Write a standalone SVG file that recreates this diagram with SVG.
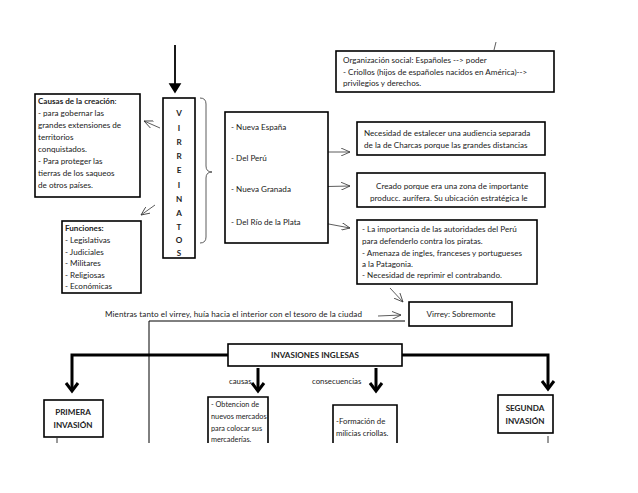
<svg xmlns="http://www.w3.org/2000/svg" width="638" height="493" viewBox="0 0 638 493">
<style>
text{font-family:Lato,"Liberation Sans",sans-serif;font-size:8.1px;fill:#222}
.b{font-weight:bold}
.s{font-size:7.8px}
.t{font-size:7.3px}
.box{fill:#fff;stroke:#000;stroke-width:1.6}
.thin{fill:none;stroke:#333;stroke-width:0.8}
.thick{fill:none;stroke:#000;stroke-width:3}
.head{fill:none;stroke:#000;stroke-width:3;stroke-linejoin:miter}
</style>
<defs>
<marker id="a" markerWidth="10" markerHeight="8" refX="9" refY="4" orient="auto" markerUnits="userSpaceOnUse">
<path d="M0,0 L9,4 L0,8" fill="none" stroke="#333" stroke-width="0.8"/>
</marker>
</defs>
<rect width="638" height="493" fill="#fff"/>
<g id="connectors">
<line x1="175" y1="45" x2="175" y2="88" stroke="#000" stroke-width="1.8"/>
<path d="M170,84 L175,92 L180,84 Z" fill="#000" stroke="#000" stroke-width="1.5"/>
<line x1="496" y1="42" x2="494" y2="50" class="thin"/>
<path d="M200,98 Q206,98 206,104 L206,166 Q206,172 212,172 Q206,172 206,178 L206,237 Q206,243 200,243" class="thin"/>
<line x1="160" y1="128" x2="144" y2="121" class="thin" marker-end="url(#a)"/>
<line x1="155" y1="205" x2="141" y2="215" class="thin" marker-end="url(#a)"/>
<line x1="300" y1="152" x2="350" y2="152" class="thin" marker-end="url(#a)"/>
<line x1="305" y1="187" x2="350" y2="186" class="thin" marker-end="url(#a)"/>
<line x1="318" y1="222" x2="350" y2="228" class="thin" marker-end="url(#a)"/>
<line x1="390" y1="288" x2="403" y2="302" class="thin" marker-end="url(#a)"/>
<line x1="378" y1="316" x2="401" y2="315" class="thin" marker-end="url(#a)"/>
<line x1="149" y1="321" x2="405" y2="321" stroke="#000" stroke-width="1"/>
<line x1="149" y1="321" x2="149" y2="443" stroke="#000" stroke-width="1"/>
<polyline points="228,355 72,355 72,390" class="thick"/>
<polyline points="66,383 72,391 78,383" class="head"/>
<polyline points="402,355 548,355 548,388" class="thick"/>
<polyline points="542,381 548,389 554,381" class="head"/>
<line x1="258" y1="368" x2="258" y2="390" class="thick"/>
<polyline points="252,383 258,391 264,383" class="head"/>
<line x1="376" y1="368" x2="376" y2="390" class="thick"/>
<polyline points="370,383 376,391 382,383" class="head"/>
<line x1="57" y1="438" x2="57" y2="443" stroke="#000" stroke-width="0.8"/>
<line x1="548" y1="436" x2="548" y2="443" stroke="#000" stroke-width="0.8"/>
</g>
<g id="organizacion">
<rect x="336" y="51" width="218" height="41" class="box"/>
<text x="343" y="63">Organización social: Españoles --&gt; poder</text>
<text x="343" y="75">- Criollos  (hijos de españoles nacidos en América)--&gt;</text>
<text x="343" y="86">privilegios y derechos.</text>
</g>
<g id="causas">
<rect x="35" y="94" width="105" height="103" class="box"/>
<text x="38" y="104"><tspan class="b">Causas de la creación</tspan>:</text>
<text x="38" y="116">- para gobernar las</text>
<text x="38" y="128">grandes extensiones de</text>
<text x="38" y="140">territorios</text>
<text x="38" y="152">conquistados.</text>
<text x="38" y="164">- Para proteger las</text>
<text x="38" y="176">tierras de los saqueos</text>
<text x="38" y="188">de otros países.</text>
</g>
<g id="virreinatos">
<rect x="163" y="98" width="32" height="160" class="box" stroke-width="2"/>
<g text-anchor="middle">
<text x="179" y="116" class="b">V</text>
<text x="179" y="131" class="b">I</text>
<text x="179" y="145" class="b">R</text>
<text x="179" y="159" class="b">R</text>
<text x="179" y="173" class="b">E</text>
<text x="179" y="188" class="b">I</text>
<text x="179" y="202" class="b">N</text>
<text x="179" y="216" class="b">A</text>
<text x="179" y="230" class="b">T</text>
<text x="179" y="243" class="b">O</text>
<text x="179" y="256" class="b">S</text>
</g>
</g>
<g id="funciones">
<rect x="62" y="221" width="79" height="72" class="box"/>
<text x="65" y="231" class="b">Funciones:</text>
<text x="65" y="243">- Legislativas</text>
<text x="65" y="255">- Judiciales</text>
<text x="65" y="266">- Militares</text>
<text x="65" y="278">- Religiosas</text>
<text x="65" y="289">- Económicas</text>
</g>
<g id="lista">
<rect x="225" y="112" width="103" height="131" class="box"/>
<text x="231" y="130">- Nueva España</text>
<text x="231" y="161">- Del Perú</text>
<text x="231" y="192">- Nueva Granada</text>
<text x="231" y="225">- Del Río de la Plata</text>
</g>
<g id="necesidad">
<rect x="357" y="122" width="188" height="33" class="box"/>
<text x="364" y="136">Necesidad de estalecer una audiencia separada</text>
<text x="364" y="148">de la de Charcas porque las grandes distancias</text>
</g>
<g id="creado">
<rect x="357" y="173" width="188" height="34" class="box"/>
<text x="376" y="189">Creado porque era una zona de importante</text>
<text x="370" y="201">producc. aurífera. Su ubicación estratégica le</text>
</g>
<g id="importancia">
<rect x="357" y="220" width="180" height="64" class="box"/>
<text x="362" y="232">-  La importancia de las autoridades del Perú</text>
<text x="362" y="244">para defenderlo contra los piratas.</text>
<text x="362" y="256">- Amenaza de ingles, franceses y portugueses</text>
<text x="362" y="267">a la Patagonia.</text>
<text x="362" y="278">- Necesidad de reprimir el contrabando.</text>
</g>
<g id="mientras">
<text x="105" y="317" textLength="257">Mientras tanto el virrey, huía hacia el interior con el tesoro de la ciudad</text>
</g>
<g id="virrey">
<rect x="409" y="302" width="103" height="24" class="box"/>
<text x="461" y="317" text-anchor="middle">Virrey: Sobremonte</text>
</g>
<g id="invasiones">
<rect x="228" y="344" width="174" height="22" class="box"/>
<text x="315" y="358" text-anchor="middle" class="b">INVASIONES INGLESAS</text>
</g>
<g id="labels">
<text x="229" y="384" class="s">causas</text>
<text x="312" y="384" class="s">consecuencias</text>
</g>
<g id="primera">
<rect x="44" y="400" width="59" height="37" class="box"/>
<text x="73" y="415" text-anchor="middle" class="b">PRIMERA</text>
<text x="73" y="428" text-anchor="middle" class="b">INVASIÓN</text>
</g>
<g id="segunda">
<rect x="498" y="395" width="55" height="38" class="box"/>
<text x="525" y="411" text-anchor="middle" class="b">SEGUNDA</text>
<text x="525" y="424" text-anchor="middle" class="b">INVASIÓN</text>
</g>
<g id="obtencion">
<path d="M208,443 L208,397 L268,397 L268,443" class="box"/>
<text x="211" y="407" class="t">- Obtencion de</text>
<text x="211" y="419" class="t">nuevos mercados</text>
<text x="211" y="431" class="t">para colocar sus</text>
<text x="211" y="442" class="t">mercaderías.</text>
</g>
<g id="formacion">
<path d="M333,443 L333,405 L397,405 L397,443" class="box"/>
<text x="336" y="424" class="s">-Formación de</text>
<text x="336" y="436" class="s">milicias criollas.</text>
</g>
</svg>
